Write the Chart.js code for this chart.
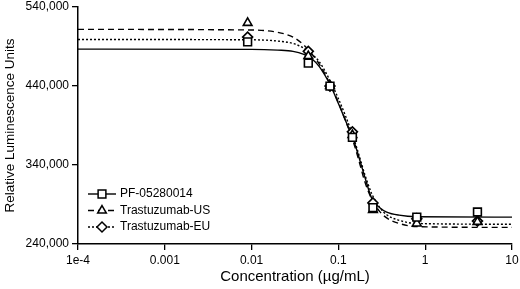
<!DOCTYPE html>
<html lang="en">
<head>
<meta charset="UTF-8">
<title>Relative Luminescence vs Concentration</title>
<script src="https://cdn.jsdelivr.net/npm/chart.js@4.4.1/dist/chart.umd.min.js"></script>
<style>
    html, body { margin: 0; padding: 0; background: #fff; }
    .wrap { width: 520px; height: 289px; }
</style>
</head>
<body>
<div class="wrap"><canvas id="doseChart" width="520" height="289"></canvas></div>
<script>
// measured points (concentration in ug/mL)
const conc = [0.009, 0.045, 0.08, 0.145, 0.25, 0.8, 4];
const pfPts = [496000, 469000, 440000, 375000, 286000, 274000, 280500];
const usPts = [520000, 478000, 440000, 378000, 283000, 266000, 268000];
const euPts = [502000, 484000, 440000, 382000, 292000, 272000, 269000];

// fitted curves
const fitX = [0.0001, 0.01, 0.02, 0.03, 0.04, 0.05, 0.06, 0.08, 0.1, 0.12, 0.15, 0.18, 0.2, 0.244, 0.3, 0.36, 0.5, 0.8, 10];
const pfFit = [486800, 486500, 485500, 484000, 480000, 474000, 465000, 442000, 418000, 397000, 371000, 343000, 326000, 297000, 286000, 280500, 276500, 274500, 274000];
const usFit = [511800, 511000, 508000, 502000, 492000, 480000, 468000, 443000, 419000, 397000, 368000, 338000, 320000, 296000, 281000, 273000, 266000, 262000, 261000];
const euFit = [499000, 498600, 497000, 494000, 488000, 480000, 471000, 447000, 424000, 403000, 374000, 346000, 329000, 303000, 286000, 277000, 270000, 266000, 265000];

const seriesNames = ['PF-05280014', 'Trastuzumab-US', 'Trastuzumab-EU'];
const xTicks = [0.0001, 0.001, 0.01, 0.1, 1, 10];
const xTickLabels = ['1e-4', '0.001', '0.01', '0.1', '1', '10'];
const yTicks = [240000, 340000, 440000, 540000];

const styles = [
    { dash: [], point: 'rect' },
    { dash: [6, 4], point: 'triangle' },
    { dash: [2, 2], point: 'rectRot' }
];

function toXY(xs, ys) {
    return xs.map((x, i) => ({ x: x, y: ys[i] }));
}

const fits = [pfFit, usFit, euFit];
const pts = [pfPts, usPts, euPts];

const datasets = [];
seriesNames.forEach((name, i) => {
    datasets.push({
        label: name + ' points',
        data: toXY(conc, pts[i]),
        showLine: false,
        pointStyle: styles[i].point,
        pointRadius: i === 0 ? 5.5 : 5,
        pointBorderWidth: 1.6,
        pointBorderColor: '#000',
        pointBackgroundColor: '#fff',
        order: 1
    });
});
seriesNames.forEach((name, i) => {
    datasets.push({
        label: name,
        data: toXY(fitX, fits[i]),
        showLine: true,
        borderColor: '#000',
        borderWidth: 1.4,
        borderDash: styles[i].dash,
        cubicInterpolationMode: 'monotone',
        pointRadius: 0,
        order: 2
    });
});

// legend drawn by hand: line sample with marker in the middle
const legendPlugin = {
    id: 'lineMarkerLegend',
    afterDraw(chart) {
        const ctx = chart.ctx;
        const x0 = 88, x1 = 116, tx = 120;
        const rows = [194, 210.5, 227];
        ctx.save();
        seriesNames.forEach((name, i) => {
            const y = rows[i];
            ctx.strokeStyle = '#000';
            ctx.lineWidth = 1.4;
            ctx.setLineDash(styles[i].dash);
            ctx.beginPath();
            ctx.moveTo(x0, y);
            ctx.lineTo(x1, y);
            ctx.stroke();
            ctx.setLineDash([]);
            ctx.fillStyle = '#fff';
            ctx.lineWidth = 1.5;
            Chart.helpers.drawPoint(ctx, {
                pointStyle: styles[i].point,
                radius: i === 0 ? 5.5 : 5,
                borderWidth: 1.5,
                rotation: 0
            }, (x0 + x1) / 2, y);
            ctx.fillStyle = '#000';
            ctx.font = '12px "Liberation Sans", Arial, sans-serif';
            ctx.textBaseline = 'middle';
            ctx.textAlign = 'left';
            ctx.fillText(name, tx, y);
        });
        ctx.restore();
    }
};

new Chart(document.getElementById('doseChart'), {
    type: 'scatter',
    data: { datasets: datasets },
    plugins: [legendPlugin],
    options: {
        responsive: false,
        animation: false,
        events: [],
        layout: { padding: 0 },
        plugins: {
            legend: { display: false },
            tooltip: { enabled: false }
        },
        scales: {
            x: {
                type: 'logarithmic',
                min: 0.0001,
                max: 10,
                afterBuildTicks(scale) {
                    scale.ticks = xTicks.map(v => ({ value: v }));
                },
                afterFit(scale) {
                    scale.height = 45;
                    scale.paddingLeft = 0;
                    scale.paddingRight = 8;
                },
                ticks: {
                    color: '#000',
                    font: { family: '"Liberation Sans", Arial, sans-serif', size: 12 },
                    padding: 3,
                    maxRotation: 0,
                    autoSkip: false,
                    callback: function(value) {
                        const k = xTicks.indexOf(value);
                        return k >= 0 ? xTickLabels[k] : '';
                    }
                },
                grid: {
                    display: true,
                    drawOnChartArea: false,
                    drawTicks: true,
                    tickLength: 6,
                    color: '#000',
                    lineWidth: 1.3
                },
                border: { display: true, color: '#000', width: 1.5 },
                title: {
                    display: true,
                    text: 'Concentration (µg/mL)',
                    color: '#000',
                    font: { family: '"Liberation Sans", Arial, sans-serif', size: 15 },
                    padding: { top: 0, bottom: 3 }
                }
            },
            y: {
                type: 'linear',
                min: 240000,
                max: 540000,
                afterBuildTicks(scale) {
                    scale.ticks = yTicks.map(v => ({ value: v }));
                },
                afterFit(scale) {
                    scale.width = 78;
                    scale.paddingTop = 7;
                    scale.paddingBottom = 0;
                },
                ticks: {
                    color: '#000',
                    font: { family: '"Liberation Sans", Arial, sans-serif', size: 12 },
                    padding: 3,
                    callback: v => v.toLocaleString('en-US')
                },
                grid: {
                    display: true,
                    drawOnChartArea: false,
                    drawTicks: true,
                    tickLength: 6,
                    color: '#000',
                    lineWidth: 1.3
                },
                border: { display: true, color: '#000', width: 1.5 },
                title: {
                    display: true,
                    text: 'Relative Luminescence Units',
                    color: '#000',
                    font: { family: '"Liberation Sans", Arial, sans-serif', size: 13.5 },
                    padding: { top: 2, bottom: 0 }
                }
            }
        }
    }
});
</script>
</body>
</html>
